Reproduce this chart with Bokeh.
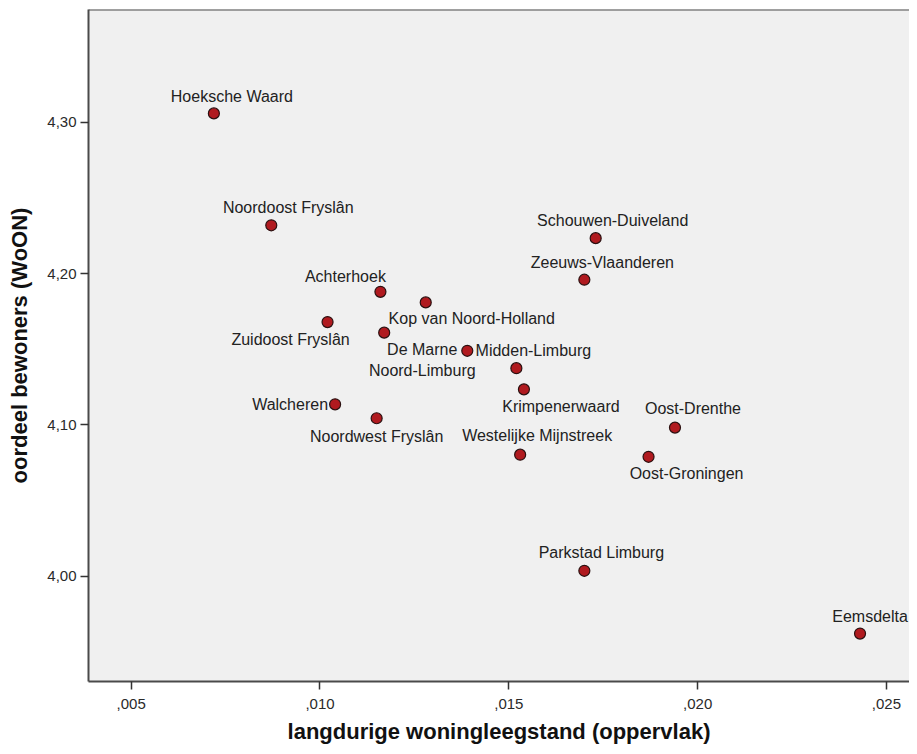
from bokeh.plotting import figure
from bokeh.models import ColumnDataSource, Range1d, FixedTicker, Span
from bokeh.core.properties import value
from bokeh.embed import file_html
from bokeh.resources import INLINE

# ---- data ----
regions = ["Hoeksche Waard", "Noordoost Fryslân", "Achterhoek", "Kop van Noord-Holland",
           "Zuidoost Fryslân", "De Marne", "Noord-Limburg", "Midden-Limburg",
           "Krimpenerwaard", "Walcheren", "Noordwest Fryslân", "Westelijke Mijnstreek",
           "Schouwen-Duiveland", "Zeeuws-Vlaanderen", "Oost-Drenthe", "Oost-Groningen",
           "Parkstad Limburg", "Eemsdelta"]
leegstand = [0.00719, 0.00871, 0.0116, 0.0128,
             0.0102, 0.0117, 0.0139, 0.0152,
             0.0154, 0.0104, 0.0115, 0.0153,
             0.0173, 0.0170, 0.0194, 0.0187,
             0.0170, 0.0243]
oordeel = [4.306, 4.232, 4.188, 4.181,
           4.168, 4.161, 4.149, 4.1375,
           4.1235, 4.1136, 4.1044, 4.0803,
           4.2235, 4.196, 4.0982, 4.0789,
           4.0035, 3.962]

x_ticks = [0.005, 0.010, 0.015, 0.020, 0.025]
x_tick_labels = [",005", ",010", ",015", ",020", ",025"]
y_ticks = [4.00, 4.10, 4.20, 4.30]
y_tick_labels = ["4,00", "4,10", "4,20", "4,30"]

x_title = "langdurige woningleegstand (oppervlak)"
y_title = "oordeel bewoners (WoON)"

# label placement (screen pixel offsets relative to each point)
label_dx = [18, 17, -35, 46, -37, 38, -45, 17, 37, -45, 0, 17, 17, 18, 18, 38, 17, 10]
label_dy = [-17, -18, -15, 16, 17, 17, 20, -18, 17, 0, 18, -19, -18, -17, -19, 17, -18, -17]

FONT = "Liberation Sans"

p = figure(width=909, height=746, output_backend="svg", toolbar_location=None,
           x_range=Range1d(0.00387, 0.02561), y_range=Range1d(3.9303, 4.3747),
           min_border_left=88, min_border_right=0, min_border_top=9, min_border_bottom=63)

p.background_fill_color = "#F0F0F0"
p.border_fill_color = "white"
p.outline_line_color = None
p.xgrid.visible = False
p.ygrid.visible = False

top_line = Span(location=4.3747, dimension="width", line_color="#4a4a4a", line_width=2)
p.add_layout(top_line)

for ax in (p.xaxis[0], p.yaxis[0]):
    ax.axis_line_color = "#4a4a4a"
    ax.axis_line_width = 2
    ax.major_tick_line_color = "#333333"
    ax.major_tick_line_width = 1.5
    ax.major_tick_out = 8
    ax.major_tick_in = 0
    ax.minor_tick_line_color = None
    ax.major_label_text_font = FONT
    ax.major_label_text_font_size = "15px"
    ax.major_label_text_color = "#2a2a2a"
    ax.axis_label_text_font = FONT
    ax.axis_label_text_font_style = "bold"
    ax.axis_label_text_font_size = "22px"
    ax.axis_label_text_color = "#111111"

p.xaxis.ticker = FixedTicker(ticks=x_ticks)
p.xaxis.major_label_overrides = dict(zip(x_ticks, x_tick_labels))
p.yaxis.ticker = FixedTicker(ticks=y_ticks)
p.yaxis.major_label_overrides = dict(zip(y_ticks, y_tick_labels))
p.xaxis.axis_label = x_title
p.yaxis.axis_label = y_title
p.xaxis.major_label_standoff = 9
p.yaxis.major_label_standoff = 4
p.xaxis.axis_label_standoff = 7
p.yaxis.axis_label_standoff = 12

src = ColumnDataSource(dict(x=leegstand, y=oordeel, name=regions, dx=label_dx, dy=label_dy))

p.text(x="x", y="y", text="name", x_offset="dx", y_offset="dy", source=src,
       text_font=value(FONT), text_font_size="16px", text_color="#222222",
       text_align="center", text_baseline="middle")
p.scatter(x="x", y="y", source=src, size=11, fill_color="#B01A1F",
          line_color="#2a1010", line_width=1.2)

open("out.html", "w").write(file_html(p, INLINE))
